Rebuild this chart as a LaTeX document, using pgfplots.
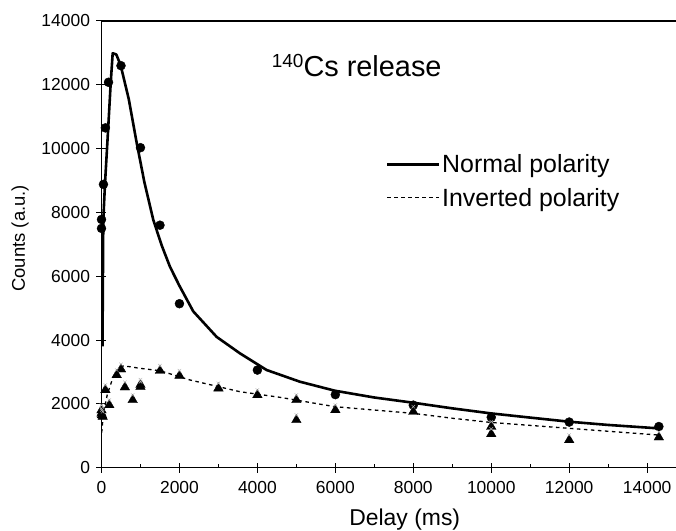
\documentclass[border=0pt]{standalone}
\usepackage{fontspec}
\setmainfont{Liberation Sans}
\usepackage{pgfplots}
\pgfplotsset{compat=1.18}

\begin{document}
\begin{tikzpicture}
\useasboundingbox (-101.5bp,-63.3bp) rectangle (574.5bp,467.7bp);
\begin{axis}[
  at={(0,0)}, anchor=south west,
  scale only axis, width=574.5bp, height=446.7bp,
  xmin=0, xmax=14740, ymin=0, ymax=14000,
  axis x line*=bottom, axis y line*=left,
  axis line style={line width=1.2bp, -},
  xtick={0,2000,...,14000}, ytick={0,2000,...,14000},
  minor xtick={1000,3000,...,13000},
  tick align=center, major tick length=10bp, minor tick length=4bp,
  tick style={line width=1bp, black},
  minor x tick style={yshift=2bp},
  scaled ticks=false,
  /pgf/number format/1000 sep={},
  /pgf/number format/assume math mode=true,
  ticklabel style={font=\fontsize{17.5}{19}\selectfont},
  xticklabel style={yshift=-5bp},
  yticklabel style={xshift=-3bp},
  xlabel={Delay (ms)}, ylabel={Counts (a.u.)},
  xlabel style={font=\fontsize{23}{26}\selectfont, xshift=16bp, yshift=-8bp},
  ylabel style={font=\fontsize{18.5}{21}\selectfont, yshift=6bp, xshift=6bp},
  legend style={at={(0.495,0.705)}, anchor=north west, draw=none, fill=none,
    font=\fontsize{25}{27}\selectfont, row sep=11bp, inner sep=0pt,
    nodes={inner sep=1.5bp}},
  legend cell align=left,
  legend image code/.code={\draw[#1] (0bp,0bp) -- (52bp,0bp);},
]
\draw[line width=1.2bp] (rel axis cs:0,1) -- (rel axis cs:1,1);

% normal polarity, measured
\addplot[only marks, mark=*, mark size=4.5bp, black, forget plot] coordinates {
(0,7500) (0,7780) (50,8880) (100,10650) (180,12080) (500,12600) (1000,10030)
(1500,7600) (2000,5140) (4000,3060) (6000,2290) (8000,1960) (10000,1580)
(12000,1430) (14300,1290)};

% inverted polarity, measured
\addplot[only marks, mark=triangle*, mark size=5.5bp, black, forget plot] coordinates {
(0,1800) (10,1650) (30,1600) (0,1700) (100,2435) (200,1965) (390,2905) (500,3084)
(600,2520) (800,2122) (1000,2537) (1000,2600) (1500,3040) (2000,2884) (3000,2488)
(4000,2278) (5000,2122) (5000,1495) (6000,1808) (8000,1755) (10000,1285)
(10000,1056) (12000,868) (14300,953)};
\addplot[only marks, mark=x, mark size=2.5bp, gray!60, mark options={yshift=5bp}, forget plot] coordinates {
(0,1800) (10,1650) (30,1600) (0,1700) (100,2435) (200,1965) (390,2905) (500,3084)
(600,2520) (800,2122) (1000,2537) (1000,2600) (1500,3040) (2000,2884) (3000,2488)
(4000,2278) (5000,2122) (5000,1495) (6000,1808) (8000,1755) (10000,1285)
(10000,1056) (12000,868) (14300,953)};

% fits
\addplot[black, line width=2.6bp, line join=round] coordinates {
(25,3800) (46,7760) (90,8910) (174,10690) (236,12050) (287,12990) (380,12950)
(490,12620) (700,11550) (900,10200) (1100,8950) (1330,7760) (1550,6950)
(1756,6300) (2000,5700) (2354,4900) (2954,4100) (3551,3585) (4236,3062)
(5090,2695) (5987,2413) (7000,2200) (7995,2037) (9000,1860) (9979,1704)
(11000,1570) (11995,1442) (13000,1340) (14277,1234)};
\addlegendentry{Normal polarity}
\addplot[black, line width=1.3bp, dash pattern=on 3.5bp off 3.5bp] coordinates {
(5,1100) (50,1700) (150,2300) (300,2850) (492,3190) (700,3170) (987,3115)
(1500,3040) (2269,2750) (3551,2382) (4577,2206) (5987,1912) (7995,1704)
(9000,1550) (9979,1420) (11995,1234) (14277,1025)};
\addlegendentry{Inverted polarity}

\node[anchor=base west, inner sep=0pt] at (rel axis cs:0.2963,0.8753)
  {\fontsize{19}{20}\selectfont\raisebox{9.5bp}{140}\fontsize{29}{31}\selectfont Cs release};
\end{axis}
\end{tikzpicture}
\end{document}
